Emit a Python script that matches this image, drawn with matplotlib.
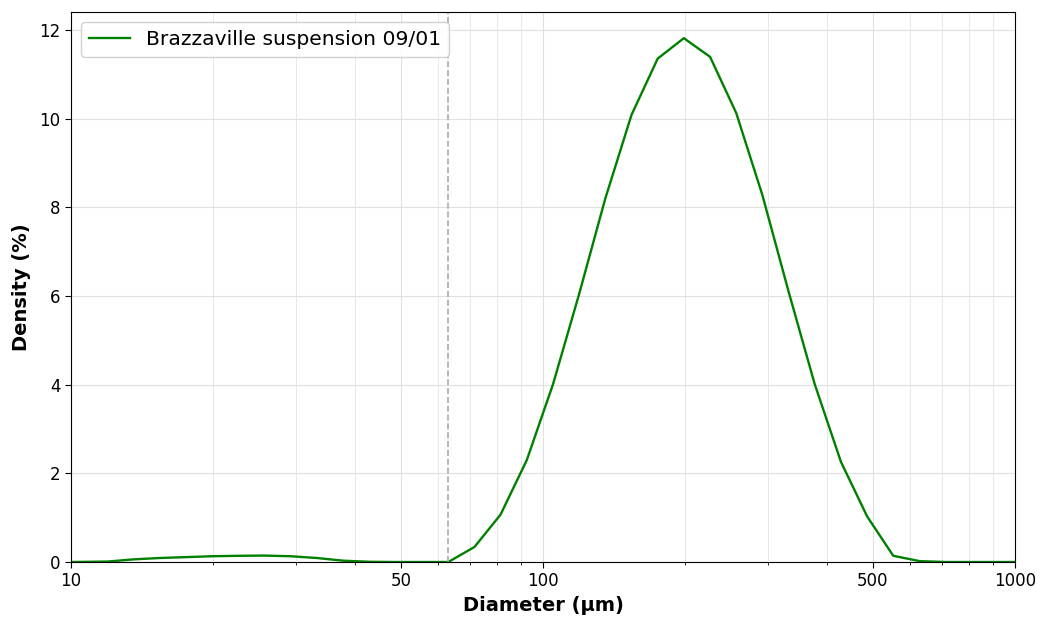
import matplotlib
matplotlib.use("Agg")
import matplotlib.pyplot as plt
from matplotlib.ticker import FixedLocator, FixedFormatter, NullFormatter, LogLocator

diameter_um = [10.0, 11.95, 13.6, 15.4, 17.5, 19.9, 22.6, 25.7, 29.2, 33.2, 37.7, 42.9,
               48.7, 55.4, 63.0, 71.6, 81.3, 92.4, 105.0, 119.3, 135.5, 154.0, 175.0,
               198.8, 225.9, 256.7, 291.6, 331.4, 376.5, 427.8, 486.0, 552.2, 627.5,
               712.9, 810.0, 920.4, 1000.0]
density_pct = [0.0, 0.01, 0.06, 0.09, 0.11, 0.13, 0.14, 0.145, 0.13, 0.09, 0.03, 0.005,
               0.0, 0.0, 0.0, 0.34, 1.07, 2.30, 4.01, 6.05, 8.2, 10.09, 11.36,
               11.82, 11.40, 10.13, 8.28, 6.1, 4.01, 2.26, 1.03, 0.14, 0.02,
               0.0, 0.0, 0.0, 0.0]
series_label = "Brazzaville suspension 09/01"
cutoff_um = 63
x_tick_values = [10, 50, 100, 500, 1000]
x_tick_labels = ["10", "50", "100", "500", "1000"]
y_tick_values = [0, 2, 4, 6, 8, 10, 12]

fig = plt.figure(figsize=(10.39, 6.17), dpi=100)
ax = fig.add_axes([71/1039, 1-562/617, (1015-71)/1039, (562-12)/617])

ax.plot(diameter_um, density_pct, color="green", linewidth=1.7, label=series_label)
ax.axvline(cutoff_um, color="#aaaaaa", linestyle="--", linewidth=1.2)

ax.set_xscale("log")
ax.set_xlim(10, 1000)
ax.set_ylim(0, max(density_pct) * 1.05)
ax.xaxis.set_major_locator(FixedLocator(x_tick_values))
ax.xaxis.set_major_formatter(FixedFormatter(x_tick_labels))
ax.xaxis.set_minor_locator(LogLocator(base=10, subs=range(2, 10)))
ax.xaxis.set_minor_formatter(NullFormatter())
ax.set_yticks(y_tick_values)

ax.grid(True, which="major", color="#e0e0e0", linewidth=0.8)
ax.grid(True, which="minor", axis="x", color="#e8e8e8", linewidth=0.7)
ax.set_axisbelow(True)

ax.tick_params(axis="both", which="major", labelsize=12, length=4)
ax.tick_params(axis="x", which="minor", length=2.5)

ax.set_xlabel("Diameter (µm)", fontsize=14, fontweight="bold")
ax.set_ylabel("Density (%)", fontsize=14, fontweight="bold", labelpad=6)

ax.legend(loc="upper left", fontsize=14.6, framealpha=0.9)

fig.savefig("out.png", dpi=100)
